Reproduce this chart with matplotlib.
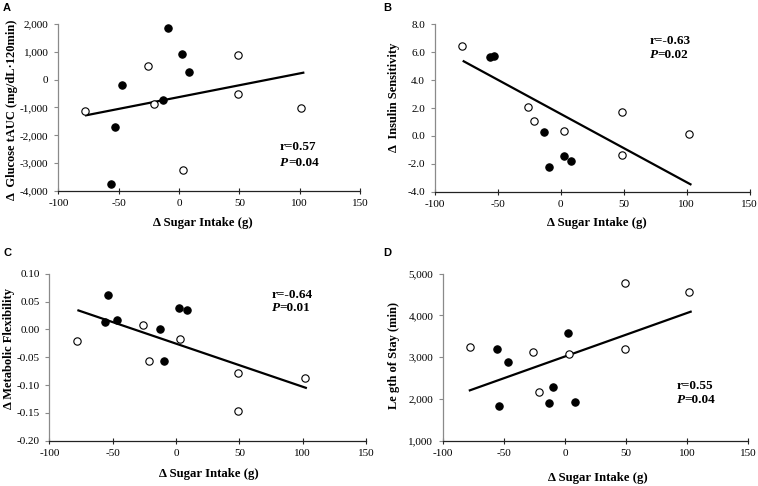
import matplotlib
matplotlib.use("Agg")
import matplotlib.pyplot as plt
import numpy as np

# ---- data ----
x_open = [-78, -26, -21, 3, 49, 49, 101.5]
x_filled_A = [-56, -53, -47, -13, -9.5, 2.5, 8.5]
A_open = [-1130, 500, -860, -3260, 890, -500, -1010]
A_filled = [-3760, -1710, -200, -740, 1860, 920, 260]
A_trend_x = [-77, 103]
A_trend_y = [-1280, 250]

x_filled_B = [-56, -53, -13, -9.5, 3, 8.5]
B_open = [6.42, 2.07, 1.07, 0.37, 1.69, -1.40, 0.13]
B_filled = [5.64, 5.70, 0.30, -2.26, -1.47, -1.80]
B_trend_x = [-77, 103]
B_trend_y = [5.35, -3.47]

x_filled_C = [-56, -53.4, -46.6, -12.6, -9.2, 2.6, 8.7]
C_open = [-0.020, 0.008, -0.057, -0.017, -0.078, -0.146, -0.088]
C_filled = [0.014, 0.061, 0.016, 0.001, -0.056, 0.039, 0.035]
C_trend_x = [-77, 102.5]
C_trend_y = [0.034, -0.105]

x_filled_D = [-56, -53.8, -47, -13.4, -9.8, 2.5, 8.5]
D_open = [3236, 3132, 2174, 3084, 4784, 3204, 4553]
D_filled = [3204, 1838, 2892, 1910, 2277, 3571, 1934]
D_trend_x = [-78, 103]
D_trend_y = [2206, 4090]

x_ticks = [-100, -50, 0, 50, 100, 150]
A_yticks = [-4000, -3000, -2000, -1000, 0, 1000, 2000]
B_yticks = [-4.0, -2.0, 0.0, 2.0, 4.0, 6.0, 8.0]
C_yticks = [-0.20, -0.15, -0.10, -0.05, 0.00, 0.05, 0.10]
D_yticks = [1000, 2000, 3000, 4000, 5000]

serif = ["Liberation Serif", "DejaVu Serif"]
sans = ["Liberation Sans", "DejaVu Sans"]

W, H = 758, 486
fig = plt.figure(figsize=(W / 100, H / 100), dpi=100)

def make_ax(l, r, t, b):
    return fig.add_axes([l / W, 1 - b / H, (r - l) / W, (b - t) / H])

panels = [
    dict(box=(58.3, 360, 24, 191), letter="A", lpos=(3, 8), pv="0.04",
         xo=x_open, yo=A_open, xf=x_filled_A, yf=A_filled,
         tx=A_trend_x, ty=A_trend_y, yticks=A_yticks,
         fmt=lambda v: f"{v:,.0f}",
         ylabel="Δ  Glucose tAUC (mg/dL·120min)",
         ylc=(-0.152, 0.488), xlc=(0.478, -0.192),
         ann=("r=0.57", 83.7, -2407, -3006)),
    dict(box=(434.7, 749.7, 24.3, 191.7), letter="B", lpos=(383, 8), pv="0.02",
         xo=x_open, yo=B_open, xf=x_filled_B, yf=B_filled,
         tx=B_trend_x, ty=B_trend_y, yticks=B_yticks,
         fmt=lambda v: f"{v:.1f}",
         ylabel="Δ  Insulin Sensitivity",
         ylc=(-0.129, 0.566), xlc=(0.514, -0.187),
         ann=("r=-0.63", 70.6, 6.8, 5.8)),
    dict(box=(49.3, 366, 273.7, 440.7), letter="C", lpos=(3, 253), pv="0.01",
         xo=x_open, yo=C_open, xf=x_filled_C, yf=C_filled,
         tx=C_trend_x, ty=C_trend_y, yticks=C_yticks,
         fmt=lambda v: f"{v:.2f}",
         ylabel="Δ Metabolic Flexibility",
         ylc=(-0.127, 0.55), xlc=(0.504, -0.197),
         ann=("r=-0.64", 75.5, 0.062, 0.038)),
    dict(box=(443, 748, 273.7, 440.7), letter="D", lpos=(383, 253), pv="0.04",
         xo=x_open, yo=D_open, xf=x_filled_D, yf=D_filled,
         tx=D_trend_x, ty=D_trend_y, yticks=D_yticks,
         fmt=lambda v: f"{v:,.0f}",
         ylabel="Le gth of Stay (min)",
         ylc=(-0.161, 0.51), xlc=(0.507, -0.222),
         ann=("r=0.55", 91.5, 2301, 1982)),
]

for p in panels:
    ax = make_ax(*p["box"])
    yt = p["yticks"]
    ax.set_xlim(-100, 150)
    ax.set_ylim(yt[0], yt[-1])
    ax.set_xticks(x_ticks)
    ax.set_yticks(yt)
    ax.set_xticklabels([str(v) for v in x_ticks], fontfamily=serif, fontsize=8)
    ax.set_yticklabels([p["fmt"](v) for v in yt], fontfamily=serif, fontsize=8)
    for s in ["top", "right"]:
        ax.spines[s].set_visible(False)
    ax.spines["left"].set_color("#8a8a8a")
    ax.spines["left"].set_linewidth(0.9)
    ax.spines["bottom"].set_color("#222222")
    ax.spines["bottom"].set_linewidth(0.9)
    ax.tick_params(axis="y", direction="out", length=3, width=0.8, color="#8a8a8a", pad=4)
    ax.tick_params(axis="x", direction="inout", length=4, width=0.8, color="#222222", pad=4)
    ax.plot(p["tx"], p["ty"], color="black", lw=1.6, zorder=2)
    ax.scatter(p["xo"], p["yo"], s=28, facecolors="white", edgecolors="black",
               linewidths=0.8, zorder=3, clip_on=False)
    ax.scatter(p["xf"], p["yf"], s=28, facecolors="black", edgecolors="black",
               linewidths=0.8, zorder=3, clip_on=False)
    ax.set_ylabel(p["ylabel"], fontfamily=serif, fontweight="bold", fontsize=9,
                  va="center")
    ax.set_xlabel("Δ Sugar Intake (g)", fontfamily=serif, fontweight="bold",
                  fontsize=9.2, va="center")
    ax.yaxis.set_label_coords(*p["ylc"])
    ax.xaxis.set_label_coords(*p["xlc"])
    rtxt, ax_x, y1, y2 = p["ann"]
    ax.text(ax_x, y1, rtxt, fontfamily=serif, fontweight="bold", fontsize=9.5,
            ha="left", va="center")
    t1 = ax.text(ax_x, y2, "P", fontfamily=serif, fontweight="bold", fontstyle="italic",
                 fontsize=9.5, ha="left", va="center")
    ax.annotate("=" + p["pv"], xy=(1, 0.5), xycoords=t1, fontfamily=serif,
                fontweight="bold", fontsize=9.5, ha="left", va="center")
    fig.text(p["lpos"][0] / W, 1 - p["lpos"][1] / H, p["letter"], fontfamily=sans,
             fontweight="bold", fontsize=8, ha="left", va="center")

fig.savefig("out.png", dpi=100)
